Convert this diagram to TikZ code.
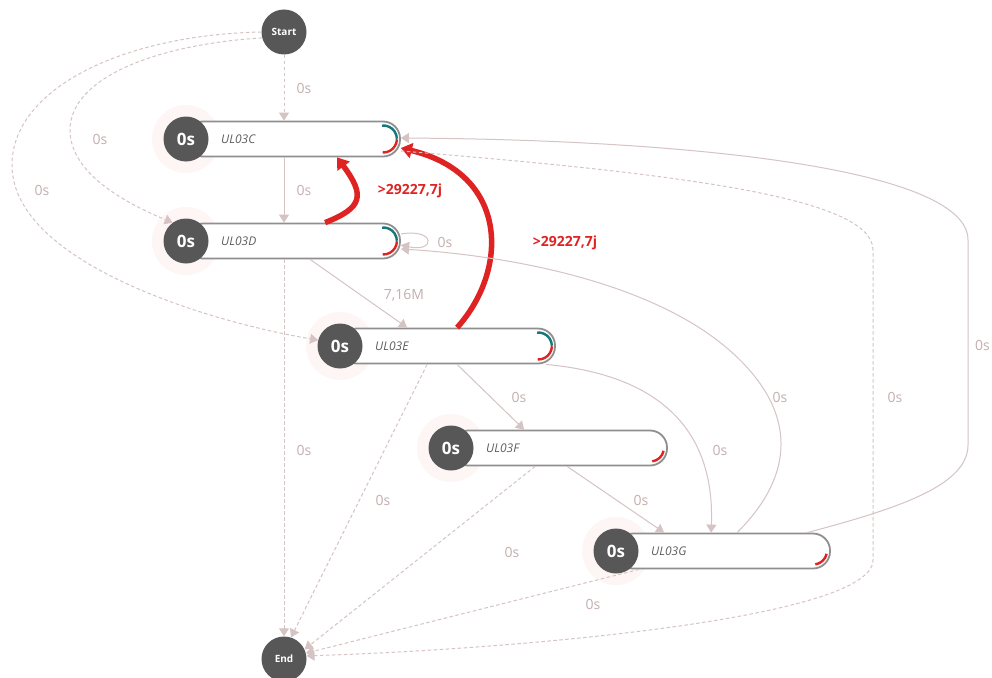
\documentclass[tikz,border=0pt]{standalone}
\usepackage{fontspec}
\setmainfont{Open Sans}
\usetikzlibrary{arrows.meta,math}

\definecolor{edgec}{HTML}{D6C3C3}
\definecolor{labelc}{HTML}{C4AFAF}
\definecolor{dotc}{HTML}{575757}
\definecolor{rimc}{HTML}{8F8F8F}
\definecolor{glowc}{HTML}{FEF6F5}
\definecolor{hotc}{HTML}{DF2323}
\definecolor{tealc}{HTML}{17787A}
\definecolor{namec}{HTML}{5E5E5E}

\tikzset{
  flow/.style={draw=edgec, line width=1pt, -{Triangle[width=10pt,length=8pt]}},
  wait/.style={flow, dash pattern=on 3.5pt off 2.5pt},
  hot/.style={draw=hotc, line width=5.5pt, -{Triangle[width=15pt,length=11pt]}},
  lbl/.style={text=labelc, font=\fontsize{14}{16}\selectfont, inner sep=1pt},
  hotlbl/.style={text=hotc, font=\bfseries\fontsize{14}{16}\selectfont, inner sep=1pt},
  dot/.style={circle, fill=dotc, minimum size=45pt, inner sep=0pt, text=white, font=\bfseries\fontsize{17}{20}\selectfont},
  term/.style={dot, font=\bfseries\fontsize{10}{12}\selectfont},
  glow/.style={circle, fill=glowc, minimum size=68pt, inner sep=0pt},
  pill/.style={draw=rimc, fill=white, line width=1.8pt, rounded corners=17pt, minimum height=35pt, inner sep=0pt},
  tag/.style={text=namec, font=\itshape\fontsize{12}{14}\selectfont, anchor=west, inner sep=0pt},
}

\begin{document}
\begin{tikzpicture}[x=1pt, y=-1pt]
  \tikzmath{\rr = 13.5; \cut = 17.5;}
  \clip (0,0) rectangle (992,677);
  \fill[white] (0,0) rectangle (992,677);

  % steps
  \foreach \n/\x/\y/\r in {C/186/139/400, D/186/241/400, E/340/346/555, F/451/448/667, G/616/551/830}{
    \tikzmath{\bw = \r - \x; \bx = (\r + \x)/2;}
    \node[glow] (glow\n) at (\x,\y) {};
    \node[pill, minimum width=\bw pt] (bar\n) at (\bx,\y) {};
    \node[dot] (\n) at (\x,\y) {0s};
    \node[tag] (tag\n) at (\x+35,\y) {UL03\n};
  }
  \foreach \n in {C,D,E}{
    \draw[tealc, line width=2.4pt] ([xshift=-\cut pt]bar\n.east) ++(-95:\rr) arc[start angle=-95, end angle=-1, radius=\rr];
    \draw[hotc, line width=2.4pt] ([xshift=-\cut pt]bar\n.east) ++(1:\rr) arc[start angle=1, end angle=93, radius=\rr];
  }
  \foreach \n in {F,G}{
    \draw[hotc, line width=2.4pt] ([xshift=-\cut pt]bar\n.east) ++(12:\rr) arc[start angle=12, end angle=82, radius=\rr];
  }

  \node[term] (start) at (284,32) {Start};
  \node[term] (stop) at (284,659) {End};

  % transitions
  \draw[wait] (start) -- (start |- barC.north);
  \draw[wait] (start.195) .. controls (150,45) and (70,80) .. (70,130) .. controls (70,175) and (130,205) .. (D.126);
  \draw[wait] (start.west) .. controls (120,35) and (12,90) .. (12,165) .. controls (12,260) and (200,320) .. (E.165);
  \draw[flow] (barC.south -| start) -- (barD.north -| start);
  \draw[hot] ([xshift=140pt]barD.north west) .. controls +(38,-15) and +(28,38) .. ([xshift=152pt]barC.south west);
  \draw[hot] ([xshift=118pt]barE.north west) .. controls +(52,-58) and +(108,26) .. ([yshift=-9pt]barC.east);
  \draw[flow] ([yshift=7pt]barD.east) .. controls +(35,-6) and +(35,8) .. ([yshift=-4pt]barD.east);
  \draw[flow] ([xshift=125pt]barD.south west) -- ([xshift=68pt]barE.north west);
  \draw[wait] (barD.south -| start) -- (stop);
  \draw[wait] ([xshift=88pt]barE.south west) -- (stop.72);
  \draw[flow] ([xshift=118pt]barE.south west) -- ([xshift=74pt]barF.north west);
  \draw[flow] ([xshift=-10pt]barE.south east) .. controls (660,375) and (715,430) .. ([xshift=96pt]barG.north west);
  \draw[flow] ([xshift=117pt]barF.south west) -- ([xshift=49pt]barG.north west);
  \draw[wait] ([xshift=85pt]barF.south west) -- (stop.25);
  \draw[flow] ([xshift=122pt]barG.north west) .. controls (790,480) and (800,420) .. (740,360) .. controls (660,280) and (500,255) .. ([yshift=-8pt]barD.east);
  \draw[flow] ([xshift=192pt]barG.north west) .. controls (900,508) and (968,485) .. (968,445) -- (968,240) .. controls (968,170) and (700,140) .. ([yshift=1pt]barC.east);
  \draw[wait] ([xshift=24pt]barG.south west) -- (stop.15);
  \draw[wait] ([yshift=-12pt]barC.east) .. controls (700,175) and (873,200) .. (873,250) -- (873,560) .. controls (873,620) and (500,650) .. (stop.8);

  % labels
  \node[lbl] (lSC) at (304,88) {0s};
  \node[lbl] (lSD) at (100,139) {0s};
  \node[lbl] (lSE) at (42,190) {0s};
  \node[lbl] (lCD) at (304,190) {0s};
  \node[hotlbl] (lDC) at (410,191) {>29227,7j};
  \node[hotlbl] (lEC) at (565,243) {>29227,7j};
  \node[lbl] (lDD) at (445,242) {0s};
  \node[lbl] (lDE) at (404,295) {7,16M};
  \node[lbl] (lDT) at (304,450) {0s};
  \node[lbl] (lET) at (383,500) {0s};
  \node[lbl] (lEF) at (519,397) {0s};
  \node[lbl] (lEG) at (720,450) {0s};
  \node[lbl] (lFG) at (641,500) {0s};
  \node[lbl] (lFT) at (512,552) {0s};
  \node[lbl] (lGD) at (780,397) {0s};
  \node[lbl, anchor=east] (lGC) at (991,345) {0s};
  \node[lbl] (lGT) at (593,604) {0s};
  \node[lbl] (lCT) at (895,397) {0s};
\end{tikzpicture}
\end{document}
